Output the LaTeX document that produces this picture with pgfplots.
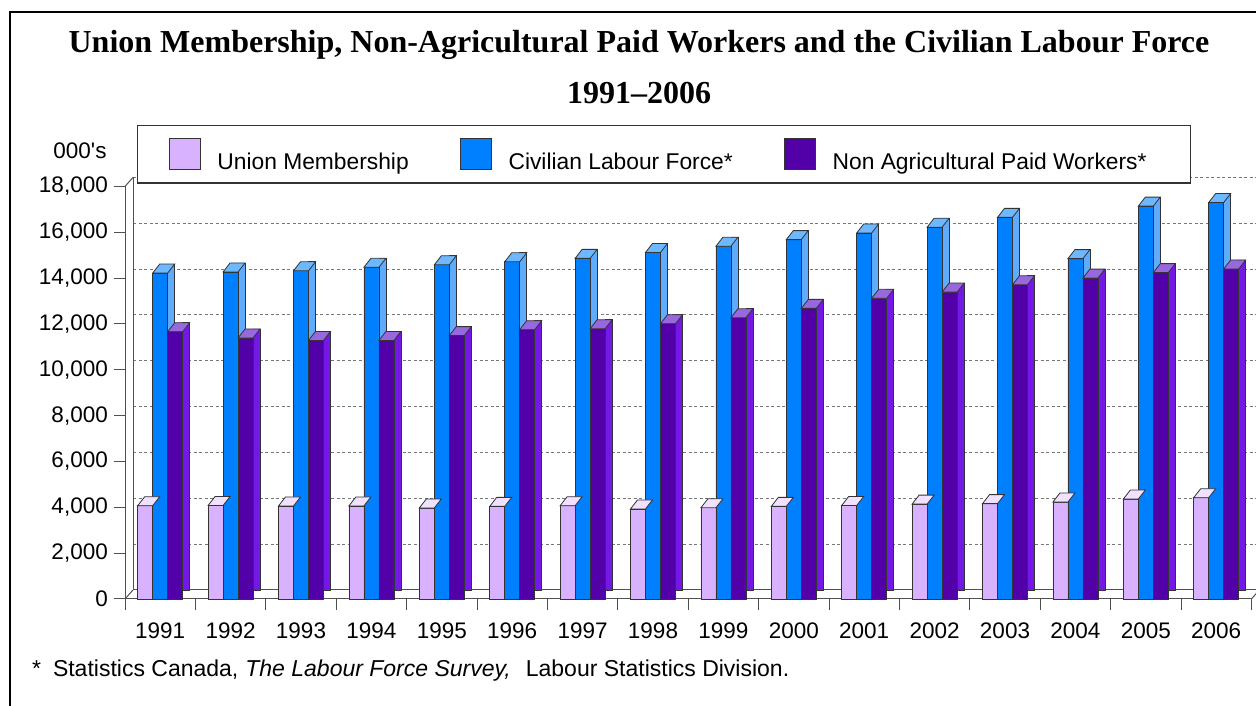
\documentclass[border=0pt]{standalone}
\usepackage{fontspec}
\setmainfont{Liberation Sans}
\newfontfamily\titlefont{Liberation Serif}
\usepackage{pgfplots}
\pgfplotsset{compat=1.18}
\usepackage{pgfplotstable}

\definecolor{unionC}{RGB}{217,178,255}
\definecolor{unionTop}{RGB}{240,226,255}
\definecolor{clfC}{RGB}{0,128,255}
\definecolor{clfSide}{RGB}{95,172,255}
\definecolor{clfTop}{RGB}{110,184,255}
\definecolor{napC}{RGB}{82,0,168}
\definecolor{napSide}{RGB}{116,24,230}
\definecolor{napTop}{RGB}{152,104,222}
\definecolor{edge}{RGB}{51,51,51}
\definecolor{axisC}{RGB}{80,80,80}
\definecolor{gridC}{RGB}{120,120,120}

\pgfplotstableread{
idx year union clf napw
0 1991 4070 14220 11660
1 1992 4080 14270 11390
2 1993 4060 14320 11280
3 1994 4060 14470 11280
4 1995 3970 14580 11490
5 1996 4040 14710 11750
6 1997 4070 14860 11790
7 1998 3930 15120 12010
8 1999 3980 15390 12270
9 2000 4040 15680 12680
10 2001 4080 15970 13120
11 2002 4140 16220 13390
12 2003 4160 16650 13710
13 2004 4230 14850 14000
14 2005 4360 17140 14240
15 2006 4420 17300 14400
}\datatable

\pgfplotsset{
  front/.style 2 args={ybar, bar width=15pt, bar shift=#1, fill=#2, draw=edge, line width=0.8pt},
  side/.style 2 args={forget plot, ybar, bar width=7pt, bar shift=#1, yshift=9pt, fill=#2, draw=edge, line width=0.8pt},
  top3d/.style 2 args={%
    forget plot, scatter, only marks, mark=*, mark size=0pt,
    mark options={draw=none, fill=none},
    scatter/@pre marker code/.code={%
      \draw[edge, line width=0.8pt, fill=#2]
        ({(#1-7.5)*1pt},0pt) -- ({(#1+7.5)*1pt},0pt) -- ({(#1+14.5)*1pt},9pt) -- ({(#1-0.5)*1pt},9pt) -- cycle;
    },
    scatter/@post marker code/.code={},
  },
  sqlegend/.style={legend image code/.code={\draw[draw=edge, line width=0.8pt, fill=#1] (0pt,-7pt) rectangle (31pt,24pt);}},
}

\begin{document}
\begin{tikzpicture}[font=\fontsize{22.5}{27}\selectfont]
\useasboundingbox (0,0) rectangle (1256pt,706pt);
\draw[line width=2pt] (10pt,-10pt) -- (10pt,694pt) -- (1270pt,694pt);
\node[anchor=base, font=\titlefont\bfseries\fontsize{32}{38}\selectfont] at (639pt,653pt) {Union Membership, Non-Agricultural Paid Workers and the Civilian Labour Force};
\node[anchor=base, font=\titlefont\bfseries\fontsize{32}{38}\selectfont] at (639pt,602pt) {1991–2006};
\node[anchor=base] at (80pt,547pt) {000\textquotesingle s};

% back wall with grid lines
\begin{axis}[at={(133pt,116pt)}, anchor=south west,
  x=70.4pt, y=0.02292pt, xmin=-0.5, xmax=15.5, ymin=0, ymax=18000,
  axis lines*=left, axis line style={axisC, line width=1pt},
  xtick=\empty, ytick={2000,4000,...,18000}, yticklabel=\empty,
  major tick length=0pt, scaled y ticks=false,
  ymajorgrids, major grid style={gridC, line width=1pt, dash pattern=on 3pt off 2.5pt}]
\addplot[draw=none] coordinates {(0,0)};
\end{axis}

\begin{axis}[at={(125pt,107pt)}, anchor=south west,
  x=70.4pt, y=0.02292pt, xmin=-0.5, xmax=15.5, ymin=0, ymax=18000,
  clip=false,
  axis lines*=left, axis line style={axisC, line width=1pt},
  tick align=outside, major tick length=11pt, minor tick length=11pt,
  tick style={axisC, line width=1pt},
  xtick={0,...,15},
  xticklabels={1991,1992,1993,1994,1995,1996,1997,1998,1999,2000,2001,2002,2003,2004,2005,2006},
  major x tick style={draw=none},
  minor xtick={-0.5,0.5,...,15.5},
  ytick={0,2000,...,18000}, scaled y ticks=false,
  /pgf/number format/1000 sep={,},
  /pgf/number format/assume math mode=true,
  yticklabel style={anchor=east, inner sep=0pt, xshift=-6pt},
  xticklabel style={anchor=base, inner sep=0pt, yshift=-29pt},
  legend columns=3,
  legend style={at={(axis description cs:0.01065,1.1489)}, anchor=north west,
    draw=edge, line width=1.2pt, fill=white, inner xsep=31pt, inner ysep=12pt,
    font=\fontsize{22.8}{27}\selectfont, nodes={inner sep=0pt},
    column sep=17pt,
    /tikz/every even column/.append style={column sep=51pt}},
]
\addplot[front={-15pt}{unionC}, sqlegend=unionC] table[x=idx, y=union] {\datatable};
\addlegendentry{Union Membership}
\addplot[side={-4pt}{unionC}] table[x=idx, y=union] {\datatable};
\addplot[top3d={-15}{unionTop}] table[x=idx, y=union] {\datatable};

\addplot[front={0pt}{clfC}, sqlegend=clfC] table[x=idx, y=clf] {\datatable};
\addlegendentry{Civilian Labour Force*}
\addplot[side={11pt}{clfSide}] table[x=idx, y=clf] {\datatable};
\addplot[top3d={0}{clfTop}] table[x=idx, y=clf] {\datatable};

\addplot[front={15pt}{napC}, sqlegend=napC] table[x=idx, y=napw] {\datatable};
\addlegendentry{\makebox[327pt][l]{Non Agricultural Paid Workers*}}
\addplot[side={26pt}{napSide}] table[x=idx, y=napw] {\datatable};
\addplot[top3d={15}{napTop}] table[x=idx, y=napw] {\datatable};

\draw[axisC, line width=1pt] (axis cs:-0.5,0) -- ++(8pt,9pt);
\draw[axisC, line width=1pt] (axis cs:-0.5,18000) -- ++(8pt,9pt);
\draw[axisC, line width=1pt] (axis cs:15.5,0) -- ++(8pt,9pt);
\end{axis}

\node[anchor=base west, font=\fontsize{23}{27}\selectfont] at (28.5pt,29pt) {\makebox[21pt][l]{*}Statistics Canada,\hspace{7pt}\textit{The Labour Force Survey,}\hspace{15pt}Labour Statistics Division.};
\end{tikzpicture}
\end{document}
